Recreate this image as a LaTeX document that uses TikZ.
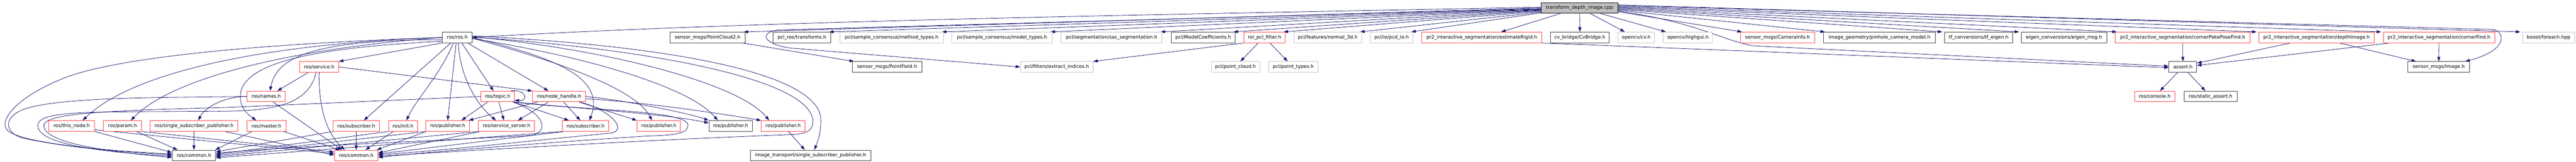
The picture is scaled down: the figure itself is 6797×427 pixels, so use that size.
\documentclass[tikz,border=0pt]{standalone}
\usepackage{fontspec}
\setmainfont{DejaVu Sans}
\usetikzlibrary{arrows.meta,calc,backgrounds}
\definecolor{edgec}{HTML}{191970}
\definecolor{redc}{HTML}{FF4444}
\definecolor{grayc}{HTML}{C4C4C4}
\definecolor{blackc}{HTML}{404040}
\definecolor{mainfill}{HTML}{BFBFBF}
\tikzset{
 box/.style={rectangle, inner sep=0pt, minimum height=28pt, line width=1.3pt, font=\fontsize{12.6}{14}\selectfont, text=black, fill=white},
 redbox/.style={box, draw=redc},
 graybox/.style={box, draw=grayc},
 blackbox/.style={box, draw=blackc},
 mainbox/.style={box, draw=black, fill=mainfill},
 dep/.style={draw=edgec, line width=1.1pt, -{Triangle[length=12pt,width=8pt]}},
}
\begin{document}
\begin{tikzpicture}[x=1pt,y=-1pt]
\useasboundingbox (0,0) rectangle (6797,427);
% row 0
\node[mainbox, minimum width=202.5] (T) at (4167.8,21) {transform\_depth\_image.cpp};
% row 1
\node[blackbox, minimum width=78] (R) at (1206.5,99) {ros/ros.h};
\node[blackbox, minimum width=199] (PC2) at (1867,99) {sensor\_msgs/PointCloud2.h};
\node[blackbox, minimum width=152] (TF) at (2115.9,99) {pcl\_ros/transforms.h};
\node[graybox, minimum width=273.6] (MT) at (2352.6,99) {pcl/sample\_consensus/method\_types.h};
\node[graybox, minimum width=264] (MO) at (2643.9,99) {pcl/sample\_consensus/model\_types.h};
\node[graybox, minimum width=266.6] (SAC) at (2933.1,99) {pcl/segmentation/sac\_segmentation.h};
\node[blackbox, minimum width=168] (MC) at (3174.8,99) {pcl/ModelCoefficients.h};
\node[redbox, minimum width=108.5] (ROI) at (3336.7,99) {roi\_pcl\_filter.h};
\node[graybox, minimum width=179.6] (N3) at (3503.2,99) {pcl/features/normal\_3d.h};
\node[graybox, minimum width=112] (PCD) at (3671.9,99) {pcl/io/pcd\_io.h};
\node[redbox, minimum width=316.5] (ER) at (3909.8,99) {pr2\_interactive\_segmentation/estimateRigid.h};
\node[blackbox, minimum width=155.6] (CVB) at (4168.6,99) {cv\_bridge/CvBridge.h};
\node[graybox, minimum width=96.3] (CV) at (4317.2,99) {opencv/cv.h};
\node[graybox, minimum width=129.6] (HG) at (4453.7,99) {opencv/highgui.h};
\node[redbox, minimum width=196.3] (CI) at (4690.2,99) {sensor\_msgs/CameraInfo.h};
\node[blackbox, minimum width=296] (PH) at (4958.9,99) {image\_geometry/pinhole\_camera\_model.h};
\node[blackbox, minimum width=180.3] (TFE) at (5220.7,99) {tf\_conversions/tf\_eigen.h};
\node[blackbox, minimum width=225.3] (EM) at (5446,99) {eigen\_conversions/eigen\_msg.h};
\node[redbox, minimum width=356] (CPP) at (5759.3,99) {pr2\_interactive\_segmentation/cornerPokePoseFind.h};
\node[redbox, minimum width=305] (DI) at (6112.4,99) {pr2\_interactive\_segmentation/depthImage.h};
\node[redbox, minimum width=294] (CF) at (6435.5,99) {pr2\_interactive\_segmentation/cornerFind.h};
\node[graybox, minimum width=138] (BF) at (6724.7,99) {boost/foreach.hpp};
% row 2
\node[redbox, minimum width=102.5] (SV) at (842,177) {ros/service.h};
\node[blackbox, minimum width=183] (PF) at (2340.5,177) {sensor\_msgs/PointField.h};
\node[graybox, minimum width=191.4] (EI) at (2788.3,177) {pcl/filters/extract\_indices.h};
\node[graybox, minimum width=128] (PCL) at (3259.9,177) {pcl/point\_cloud.h};
\node[graybox, minimum width=129.6] (PT) at (3412.6,177) {pcl/point\_types.h};
\node[blackbox, minimum width=73.4] (AS) at (5759.6,177) {assert.h};
\node[blackbox, minimum width=162.5] (IMG) at (6434.7,177) {sensor\_msgs/Image.h};
% row 3
\node[redbox, minimum width=101] (NM) at (702.5,255) {ros/names.h};
\node[redbox, minimum width=87.6] (TP) at (1313.2,255) {ros/topic.h};
\node[redbox, minimum width=139.6] (NH) at (1475.2,255) {ros/node\_handle.h};
\node[redbox, minimum width=106.5] (CON) at (5685.3,255) {ros/console.h};
\node[blackbox, minimum width=139.5] (SA) at (5832.7,255) {ros/static\_assert.h};
% row 4
\node[redbox, minimum width=120.4] (TN) at (189.2,333) {ros/this\_node.h};
\node[redbox, minimum width=100.3] (PA) at (323.2,333) {ros/param.h};
\node[redbox, minimum width=232] (SSP) at (512,333) {ros/single\_subscriber\_publisher.h};
\node[redbox, minimum width=102.5] (MA) at (703.3,333) {ros/master.h};
\node[redbox, minimum width=122.2] (SB1) at (939.9,333) {ros/subscriber.h};
\node[redbox, minimum width=76] (IN) at (1063.3,333) {ros/init.h};
\node[redbox, minimum width=115.4] (PB1) at (1181.2,333) {ros/publisher.h};
\node[redbox, minimum width=148.3] (SS) at (1336.7,333) {ros/service\_server.h};
\node[redbox, minimum width=122.5] (SB2) at (1545.2,333) {ros/subscriber.h};
\node[redbox, minimum width=114.7] (PB3) at (1738.3,333) {ros/publisher.h};
\node[blackbox, minimum width=114.2] (PB4) at (1927.9,333) {ros/publisher.h};
\node[redbox, minimum width=114.8] (PB5) at (2066.4,333) {ros/publisher.h};
% row 5
\node[blackbox, minimum width=114.6] (CM1) at (511.7,411) {ros/common.h};
\node[redbox, minimum width=115] (CM2) at (939.9,411) {ros/common.h};
\node[blackbox, minimum width=317.5] (ITS) at (2138.7,411) {image\_transport/single\_subscriber\_publisher.h};

\begin{scope}[on background layer]
% from the main file, to the left
\draw[dep] ($(T.west)+(0,-2)$) .. controls (3000,40) and (2000,55) .. (R.east);
\draw[dep] ($(T.west)+(0,0)$) -- ($(PC2.north east)+(-5,0)$);
\draw[dep] ($(T.west)+(0,2)$) -- (2060,79) .. controls (2005,82) and (2005,115) .. (2085,127) -- (EI.west);
\draw[dep] ($(T.west)+(0,3)$) -- ($(TF.north east)+(-5,0)$);
\draw[dep] ($(T.west)+(0,4)$) -- ($(MT.north east)+(-5,0)$);
\draw[dep] ($(T.west)+(0,5)$) -- ($(MO.north east)+(-5,0)$);
\draw[dep] ($(T.west)+(0,6)$) -- ($(SAC.north east)+(-5,0)$);
\draw[dep] ($(T.west)+(0,7)$) -- ($(MC.north east)+(-5,0)$);
\draw[dep] ($(T.west)+(0,9)$) -- ($(ROI.north east)+(-5,0)$);
\draw[dep] ($(T.west)+(0,11)$) -- ($(N3.north east)+(-5,0)$);
\draw[dep] ($(T.west)+(0,13)$) -- ($(PCD.north east)+(-5,0)$);
\draw[dep] ($(T.south)+(-50,0)$) -- ($(ER.north east)+(-108,0)$);
\draw[dep] (T.south) -- (CVB.north);
\draw[dep] ($(T.south)+(28,0)$) -- ($(CV.north)+(-30,0)$);
\draw[dep] ($(T.south)+(55,0)$) -- ($(HG.north)+(-58,0)$);
% from the main file, to the right
\draw[dep] ($(T.east)+(0,10)$) -- ($(CI.north west)+(5,0)$);
\draw[dep] ($(T.east)+(0,6)$) -- ($(PH.north west)+(5,0)$);
\draw[dep] ($(T.east)+(0,4)$) -- ($(TFE.north west)+(-5,0)$);
\draw[dep] ($(T.east)+(0,2)$) -- ($(EM.north west)+(-5,0)$);
\draw[dep] ($(T.east)+(0,0)$) -- ($(CPP.north west)+(5,0)$);
\draw[dep] ($(T.east)+(0,-2)$) -- ($(DI.north west)+(-5,0)$);
\draw[dep] ($(T.east)+(0,-4)$) -- ($(CF.north west)+(-5,0)$);
\draw[dep] ($(T.east)+(0,-8)$) -- ($(BF.north west)+(-5,0)$);
\draw[dep] ($(T.east)+(0,-6)$) -- (6580,78) .. controls (6615,90) and (6610,135) .. ($(IMG.north east)+(-12,0)$);
\draw[dep] ($(T.east)+(0,8)$) .. controls (4480,60) and (4540,105) .. (4625,121) -- ($(AS.west)+(0,-2)$);
% right part
\draw[dep] (ER.south east) -- ($(AS.west)+(0,2)$);
\draw[dep] (CPP) -- (AS);
\draw[dep] ($(DI.south)+(-69,0)$) -- ($(AS.east)+(0,-10)$);
\draw[dep] ($(CF.south west)+(18,0)$) -- ($(AS.east)+(0,-4)$);
\draw[dep] ($(DI.south)+(60,0)$) -- ($(IMG.north west)+(22,0)$);
\draw[dep] (CF) -- (IMG);
\draw[dep] (AS) -- (CON);
\draw[dep] (AS) -- (SA);
% pcl part
\draw[dep] (ROI.south west) -- (EI.north east);
\draw[dep] ($(ROI.south)+(-17,0)$) -- ($(PCL.north)+(13,0)$);
\draw[dep] ($(ROI.south)+(14,0)$) -- ($(PT.north)+(-15,0)$);
\draw[dep] ($(PC2.south east)+(-8,0)$) -- ($(PF.north west)+(5,0)$);
% ros/ros.h
\draw[dep] (R.west) .. controls (700,115) and (300,150) .. (160,210) .. controls (40,260) and (-5,320) .. (20,345) .. controls (60,380) and (300,400) .. ($(CM1.west)+(0,-4)$);
\draw[dep] (R.west) .. controls (700,115) and (350,190) .. ($(TN.north)+(29,0)$);
\draw[dep] (R.west) .. controls (750,130) and (450,210) .. ($(PA.north)+(22,0)$);
\draw[dep] (R.south west) -- (SV.north east);
\draw[dep] ($(R.west)+(0,6)$) .. controls (830,105) and (730,150) .. ($(NM.north)+(10,0)$);
\draw[dep] ($(R.west)+(0,10)$) .. controls (850,125) and (660,160) .. (636,240) .. controls (628,280) and (650,300) .. ($(MA.north)+(-27,0)$);
\draw[dep] ($(R.south)+(-17,0)$) -- ($(SB1.north)+(20,0)$);
\draw[dep] ($(R.south)+(-10,0)$) .. controls (1160,200) and (1100,260) .. ($(IN.north)+(9,0)$);
\draw[dep] ($(R.south)+(-3,0)$) -- (PB1.north);
\draw[dep] ($(R.south)+(3,0)$) .. controls (1212,190) and (1250,270) .. ($(SS.north)+(-28,0)$);
\draw[dep] ($(R.south)+(12,0)$) -- ($(TP.north)+(-11,0)$);
\draw[dep] ($(R.south east)+(-12,0)$) -- ($(NH.north)+(-28,0)$);
\draw[dep] (R.east) .. controls (1450,150) and (1600,200) .. ($(SB2.north)+(10,0)$);
\draw[dep] ($(R.east)+(0,2)$) .. controls (1500,170) and (1680,240) .. ($(PB3.north)+(-18,0)$);
\draw[dep] ($(R.east)+(0,3)$) .. controls (1550,150) and (1820,230) .. ($(PB4.north)+(-34,0)$);
\draw[dep] ($(R.east)+(0,-2)$) .. controls (1600,130) and (1950,220) .. ($(PB5.north)+(-37,0)$);
\draw[dep] ($(R.east)+(0,-4)$) .. controls (1750,120) and (2170,190) .. (2166,320) .. controls (2165,360) and (2155,380) .. ($(ITS.north)+(10,0)$);
\draw[dep] ($(R.east)+(0,-1)$) .. controls (1720,130) and (2140,210) .. (2145,320) .. controls (2146,350) and (2120,355) .. (2080,356) .. controls (1700,370) and (1200,400) .. ($(CM2.east)+(0,2)$);
% ros/service.h
\draw[dep] ($(SV.south west)+(23,0)$) -- ($(NM.north east)+(-22,0)$);
\draw[dep] (SV.south) .. controls (840,300) and (870,360) .. ($(CM2.north)+(-30,0)$);
\draw[dep] (SV.east) -- (NH.north west);
\draw[dep] ($(SV.south)+(-8,0)$) .. controls (815,270) and (740,296) .. (560,294) .. controls (250,297) and (105,290) .. (100,330) .. controls (96,370) and (200,398) .. ($(CM1.west)+(0,2)$);
% ros/names.h
\draw[dep] ($(NM.south)+(18,0)$) -- ($(CM2.north)+(-37,0)$);
\draw[dep] (NM.west) .. controls (450,258) and (150,255) .. (60,290) .. controls (10,310) and (10,350) .. (60,365) .. controls (200,395) and (350,402) .. ($(CM1.west)+(0,-1)$);
\draw[dep] (NM.west) .. controls (590,255) and (540,285) .. ($(SSP.north)+(11,0)$);
% ros/topic.h
\draw[dep] (TP.west) -- (600,284) .. controls (300,292) and (122,298) .. (116,330) .. controls (112,368) and (220,396) .. ($(CM1.west)+(0,5)$);
\draw[dep] ($(TP.south west)+(18,0)$) -- ($(PB1.north east)+(-22,0)$);
\draw[dep] ($(TP.south)+(3,0)$) -- ($(SS.north)+(-7,0)$);
\draw[dep] ($(TP.south east)+(-2,0)$) -- ($(SB2.north west)+(18,0)$);
\draw[dep] ($(TP.north east)+(-10,0)$) .. controls (1390,235) and (1395,268) .. ($(TP.east)+(0,10)$);
\draw[dep] (TP.south east) .. controls (1500,285) and (1750,300) .. ($(PB4.west)+(0,-8)$);
\draw[dep] ($(TP.south east)+(-5,0)$) .. controls (1440,300) and (1450,350) .. (1400,358) .. controls (1100,375) and (800,385) .. ($(CM1.east)+(0,-6)$);
\draw[dep] ($(TP.south east)+(0,0)$) .. controls (1500,290) and (1815,290) .. (1815,330) .. controls (1815,355) and (1780,357) .. (1700,360) .. controls (1400,380) and (1150,400) .. ($(CM2.east)+(0,5)$);
% ros/node_handle.h
\draw[dep] ($(NH.south west)+(13,0)$) -- ($(PB1.north east)+(-3,0)$);
\draw[dep] ($(NH.south)+(-28,0)$) -- ($(SS.north east)+(-45,0)$);
\draw[dep] ($(NH.south)+(12,0)$) -- ($(SB2.north)+(-14,0)$);
\draw[dep] ($(NH.south east)+(-18,0)$) -- (PB3.north west);
\draw[dep] (NH.east) .. controls (1650,265) and (1820,300) .. (PB4.north west);
\draw[dep] ($(NH.east)+(0,6)$) .. controls (1700,270) and (1900,300) .. (PB5.north west);
\draw[dep] ($(NH.south)+(55,0)$) .. controls (1610,290) and (1660,345) .. (1610,352) .. controls (1400,372) and (1150,400) .. ($(CM2.east)+(0,-2)$);
% row 4 to row 5
\draw[dep] (TN.south east) -- ($(CM1.west)+(0,-8)$);
\draw[dep] ($(TN.east)+(0,10)$) -- ($(CM2.west)+(0,-5)$);
\draw[dep] ($(PA.south)+(37,0)$) -- ($(CM1.north west)+(15,0)$);
\draw[dep] (PA.south east) -- ($(CM2.west)+(0,-9)$);
\draw[dep] (SSP.south) -- (CM1.north);
\draw[dep] ($(SSP.south east)+(-35,0)$) -- ($(CM2.west)+(0,-1)$);
\draw[dep] ($(MA.south west)+(13,0)$) -- ($(CM1.north east)+(-2,0)$);
\draw[dep] ($(MA.south east)+(-7,0)$) -- ($(CM2.north west)+(16,0)$);
\draw[dep] (SB1.south west) -- ($(CM1.east)+(0,-10)$);
\draw[dep] (SB1.south) -- (CM2.north);
\draw[dep] (IN.south west) -- ($(CM1.east)+(0,-3)$);
\draw[dep] ($(IN.south west)+(13,0)$) -- ($(CM2.north east)+(-34,0)$);
\draw[dep] (PB1.south west) -- ($(CM1.east)+(0,0)$);
\draw[dep] ($(PB1.south west)+(1,0)$) -- ($(CM2.north east)+(-4,0)$);
\draw[dep] (SS.south west) -- ($(CM1.east)+(0,3)$);
\draw[dep] ($(SS.south west)+(5,0)$) -- ($(CM2.east)+(0,-7)$);
\draw[dep] (SB2.south west) -- ($(CM1.east)+(0,6)$);
\draw[dep] ($(SB2.south west)+(5,0)$) -- ($(CM2.east)+(0,-4)$);
\draw[dep] ($(PB5.south)+(14,0)$) -- ($(ITS.north)+(-15,0)$);
\end{scope}
\end{tikzpicture}
\end{document}
